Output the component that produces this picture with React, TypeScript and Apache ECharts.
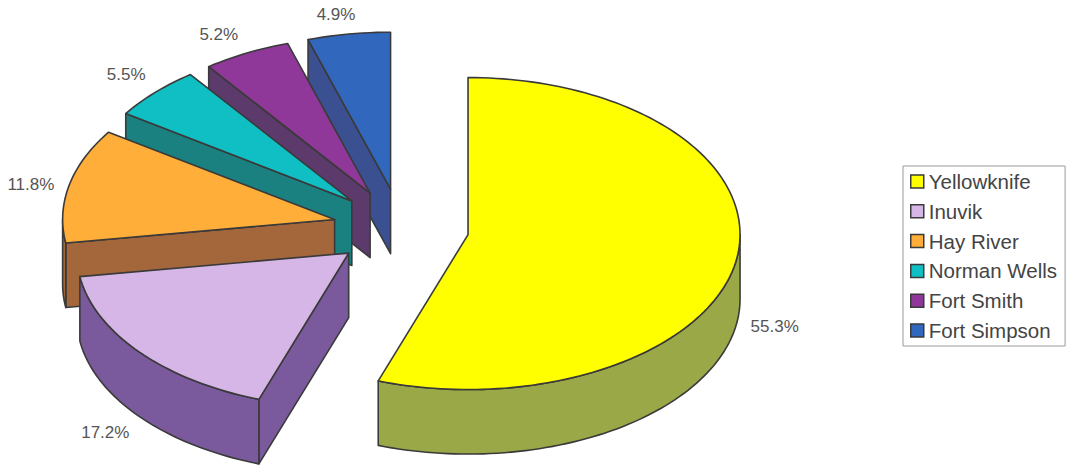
import React, { useEffect, useRef } from "react";
import * as echarts from "echarts";

// Share of the territory total by community, in percent.
const communities = ["Yellowknife", "Inuvik", "Hay River", "Norman Wells", "Fort Smith", "Fort Simpson"];
const shares = [55.3, 17.2, 11.8, 5.5, 5.2, 4.9];
const topColours = ["#FFFF00", "#D6B6E6", "#FFAE3A", "#0FBFC4", "#90389A", "#3267BE"];
const wallColours = ["#9BA848", "#7A5A9C", "#A4673C", "#1B8080", "#5C3A6C", "#3B5090"];

// Small hand adjustments that keep each value label clear of its wedge.
const labelNudges = [
  [1, -3],
  [-5, 1],
  [0, 4],
  [2, -3],
  [-6, 1],
  [-2, 2],
];

// Projection of the tilted pie; the near half is foreshortened a little more.
const CX = 401;
const CY = 228;
const RX = 272;
const RY_BACK = 157;
const RY_FRONT = 155;
const DEPTH = 64.5;
const EXPLODE = 0.25;
const ARC_STEP = 1.5;

const FONT = '"Liberation Sans", Arial, sans-serif';
const OUTLINE = { stroke: "#3a3a3a", lineWidth: 1.6, lineJoin: "round" as const };

const total = shares.reduce((a, b) => a + b, 0);

function sliceAngles(index: number) {
  const before = shares.slice(0, index).reduce((a, b) => a + b, 0);
  return {
    start: (before / total) * 360,
    end: ((before + shares[index]) / total) * 360,
  };
}

const rad = (deg: number) => (deg * Math.PI) / 180;

function arcPoints(ax: number, ay: number, from: number, to: number, dy = 0) {
  const pts: number[][] = [];
  const n = Math.max(1, Math.ceil((to - from) / ARC_STEP));
  for (let i = 0; i <= n; i++) {
    const t = rad(from + ((to - from) * i) / n);
    const cos = Math.cos(t);
    pts.push([ax + RX * Math.sin(t), ay - (cos < 0 ? RY_FRONT : RY_BACK) * cos + dy]);
  }
  return pts;
}

// Draws one wedge: its visible side walls, its top face and its value label.
function renderSlice(index: number) {
  const { start, end } = sliceAngles(index);
  const mid = rad((start + end) / 2);
  const ax = CX + EXPLODE * RX * Math.sin(mid);
  const ay = CY - EXPLODE * RY_BACK * Math.cos(mid);
  const children: any[] = [];
  const wallStyle = { fill: wallColours[index], ...OUTLINE };

  const cutWall = (deg: number) => {
    const [p] = arcPoints(ax, ay, deg, deg);
    children.push({
      type: "polygon",
      shape: { points: [[ax, ay], p, [p[0], p[1] + DEPTH], [ax, ay + DEPTH]] },
      style: wallStyle,
    });
  };
  if (Math.sin(rad(start)) < -1e-6) cutWall(start);
  if (Math.sin(rad(end)) > 1e-6) cutWall(end);

  const from = Math.max(start, 90);
  const to = Math.min(end, 270);
  if (to > from) {
    children.push({
      type: "polygon",
      shape: {
        points: [...arcPoints(ax, ay, from, to), ...arcPoints(ax, ay, from, to, DEPTH).reverse()],
      },
      style: wallStyle,
    });
  }

  children.push({
    type: "polygon",
    shape: { points: [[ax, ay], ...arcPoints(ax, ay, start, end)] },
    style: { fill: topColours[index], ...OUTLINE },
  });

  const sin = Math.sin(mid);
  const cos = Math.cos(mid);
  const [nudgeX, nudgeY] = labelNudges[index];
  children.push({
    type: "text",
    style: {
      text: `${shares[index].toFixed(1)}%`,
      x: ax + (RX + 38) * sin - 5 * Math.max(0, cos) + nudgeX,
      y: ay - (RY_BACK + 22) * cos + (cos < 0 ? DEPTH : 0) + nudgeY,
      fill: "#555555",
      font: `17px ${FONT}`,
      align: "center",
      verticalAlign: "middle",
    },
  });
  return { type: "group", children };
}

export default function App() {
  const ref = useRef<HTMLDivElement>(null);

  useEffect(() => {
    const chart = echarts.init(ref.current!, undefined, { renderer: "svg" });
    chart.setOption({
      animation: false,
      backgroundColor: "#ffffff",
      legend: {
        orient: "vertical",
        left: 903,
        top: 166,
        padding: [5, 8, 5, 7],
        itemWidth: 13,
        itemHeight: 13,
        itemGap: 8.8,
        selectedMode: false,
        icon: "rect",
        borderColor: "#9a9a9a",
        borderWidth: 1,
        data: communities,
        itemStyle: { borderColor: "#3a3a3a", borderWidth: 1.5 },
        textStyle: {
          color: "#444444",
          fontFamily: FONT,
          fontSize: 20.5,
          lineHeight: 20,
        },
      },
      series: communities.map((name, i) => ({
        type: "custom",
        name,
        coordinateSystem: "none",
        silent: true,
        z: 10 - i,
        itemStyle: { color: topColours[i] },
        data: [[shares[i]]],
        renderItem: () => renderSlice(i),
      })),
    });
    return () => chart.dispose();
  }, []);

  return <div ref={ref} style={{ position: "absolute", left: 0, top: 0, width: 1069, height: 466 }} />;
}
